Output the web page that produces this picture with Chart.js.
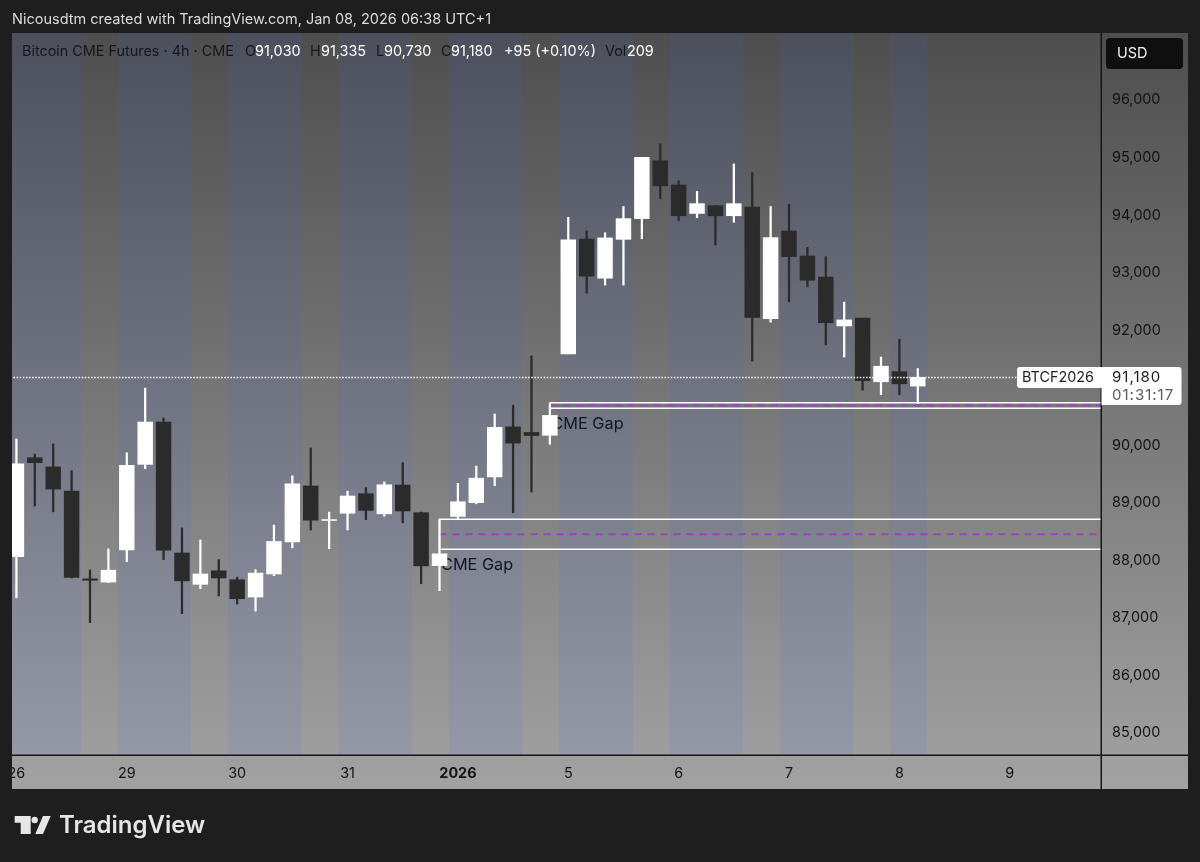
<!DOCTYPE html>
<html><head><meta charset="utf-8">
<style>html,body{margin:0;padding:0;background:#1e1e1e}canvas{display:block}</style>
<script src="https://cdn.jsdelivr.net/npm/chart.js@4"></script>
</head><body><canvas id="c" width="1200" height="862"></canvas>
<script>
const opens  =[88065,89785,89625,89205,87680,87625,88185,89670,90405,88130,87585,87820,87665,87365,87765,88320,89295,88695,88820,89160,88810,89310,88830,87910,88765,89005,89450,90320,90225,90175,91590,93585,92905,93580,93940,94945,94525,94030,94165,93990,94140,92200,93725,93290,92925,92075,92210,91105,91280,91030];
const highs  =[90110,89850,90025,89560,87835,88200,89870,90995,90475,88565,88355,88015,87710,87840,88615,89470,89955,88840,89205,89265,89365,89700,88840,88720,89340,89640,90545,90700,91555,90735,93965,93725,93695,94150,95005,95240,94600,94415,94165,94890,94740,94150,94190,93440,93280,92490,92210,91535,91845,91335];
const lows   =[87350,88945,88845,87695,86920,87615,87980,89595,88015,87075,87510,87385,87245,87120,87735,88220,88530,88205,88530,88710,88770,88655,87595,87475,88720,88985,89300,88830,89190,90020,91590,92645,92785,92785,93590,94285,93905,93955,93480,93875,91465,92140,92495,92755,91745,91535,90960,90880,90880,90730];
const closes =[89680,89700,89240,87705,87655,87830,89655,90405,88180,87645,87765,87695,87335,87780,88330,89330,88700,88710,89120,88870,89315,88860,87905,88115,89020,89430,90315,90040,90170,90520,93570,92940,93605,93940,95005,94510,93990,94200,93990,94200,92225,93610,93280,92870,92130,92180,91125,91375,91070,91180];
const yTicks =[85000,86000,87000,88000,89000,90000,91000,92000,93000,94000,95000,96000];
const xTickIdx   =[0,6,12,18,24,30,36,42,48,54];
const xTickLabels=['26','29','30','31','2026','5','6','7','8','9'];
const greyBands=[[3.5,5.5],[9.5,11.5],[15.5,17.5],[21.5,23.5],[27.5,29.5],[33.5,35.5],[39.5,41.5],[45.5,47.5]];
const sessionStart=-1, sessionEnd=49.5;
const gapZones=[{from:23,top:88715,bottom:88195,mid:88455},{from:29,top:90740,bottom:90645,mid:90695}];
const gapNotes=[{x:23,price:87920,text:'CME Gap'},{x:29,price:90365,text:'CME Gap'}];
const lastPrice=91180, xEnd=59.5;

const FONT='Inter, "Noto Sans", sans-serif';
const WHITE='#ffffff', DARK='#2b2b2b';
const colours=opens.map((o,i)=>closes[i]>=o?WHITE:DARK);
const ds=[];
gapZones.forEach(g=>{
  ds.push({type:'line',order:6,data:[{x:g.from,y:g.top},{x:xEnd,y:g.top},{x:xEnd,y:g.bottom},{x:g.from,y:g.bottom},{x:g.from,y:g.top}],
    borderColor:WHITE,borderWidth:1.4,pointRadius:0,fill:false,tension:0});
});
gapZones.forEach(g=>{
  ds.push({type:'line',order:5,data:[{x:g.from,y:g.mid},{x:xEnd,y:g.mid}],
    borderColor:'#a040c0',borderWidth:1.8,borderDash:[7,6],pointRadius:0,fill:false});
});
ds.push({type:'bar',order:2,grouped:false,barThickness:1.6,borderWidth:0,backgroundColor:colours,
  data:lows.map((l,i)=>({x:i,y:[l,highs[i]]}))});
ds.push({type:'bar',order:1,grouped:false,barThickness:14.8,borderWidth:0,backgroundColor:colours,
  data:opens.map((o,i)=>({x:i,y:[o,closes[i]]}))});
ds.push({type:'line',order:0,data:[{x:-1,y:lastPrice},{x:xEnd,y:lastPrice}],borderColor:WHITE,borderWidth:1.4,borderDash:[1.5,1.6],pointRadius:0,fill:false});

function txt(ctx,s,x,y,font,col,spacing){ctx.font=font;ctx.fillStyle=col;ctx.textAlign='left';ctx.textBaseline='middle';ctx.letterSpacing=spacing||'0px';ctx.fillText(s,x,y);ctx.letterSpacing='0px';}
function rr(ctx,x,y,w,h,r,col){ctx.fillStyle=col;ctx.beginPath();ctx.roundRect(x,y,w,h,r);ctx.fill();}

const furniture={
  id:'furniture',
  beforeDraw(chart){
    const ctx=chart.ctx, a=chart.chartArea, xs=chart.scales.x;
    ctx.save();
    ctx.fillStyle='#1e1e1e';ctx.fillRect(0,0,1200,862);
    const g=ctx.createLinearGradient(0,33,0,789);
    g.addColorStop(0,'#4e4e4e');g.addColorStop(1,'#a2a2a2');
    ctx.fillStyle=g;ctx.fillRect(12,33,1176,756);
    const b=ctx.createLinearGradient(0,33,0,789);
    b.addColorStop(0,'#4c505c');b.addColorStop(1,'#989baa');
    ctx.fillStyle=b;
    ctx.beginPath();ctx.rect(a.left,a.top,a.right-a.left,a.bottom-a.top);ctx.clip();
    const px=v=>xs.getPixelForValue(v);
    ctx.fillRect(px(sessionStart),a.top,px(sessionEnd)-px(sessionStart),a.bottom-a.top);
    ctx.fillStyle=g;
    greyBands.forEach(r=>ctx.fillRect(px(r[0]),a.top,px(r[1])-px(r[0]),a.bottom-a.top));
    ctx.restore();
  },
  beforeDatasetsDraw(chart){
    const ctx=chart.ctx, xs=chart.scales.x, ys=chart.scales.y;
    ctx.save();
    gapNotes.forEach(n=>txt(ctx,n.text,xs.getPixelForValue(n.x)+1.5,ys.getPixelForValue(n.price),'16.3px '+FONT,'#131722'));
    ctx.restore();
  },
  afterDraw(chart){
    const ctx=chart.ctx, a=chart.chartArea;
    ctx.save();
    ctx.fillStyle='#1e1e1e';ctx.fillRect(0,a.bottom,12,40);
    ctx.fillStyle='#161616';
    ctx.fillRect(12,a.bottom-0.5,1176,1.5);
    ctx.fillRect(a.right-0.5,33,1.5,756);
    txt(ctx,'Nicousdtm created with TradingView.com, Jan 08, 2026 06:38 UTC+1',12,19.5,'14.5px '+FONT,'#dcdcdc');
    const D='#15171c', W='#ffffff', F='14.4px '+FONT;
    txt(ctx,'Bitcoin CME Futures · 4h · CME',22,52,F,D);
    [['O',245,D],['91,030',255,W],['H',310,D],['91,335',321,W],['L',376,D],['90,730',384,W],['C',441,D],['91,180',451,W],['+95 (+0.10%)',504,W],['Vol',605,D],['209',627,W]]
      .forEach(t=>txt(ctx,t[0],t[1],52,F,t[2]));
    rr(ctx,1106,38,77,31,4,'#0f0f0f');
    txt(ctx,'USD',1117,53.5,F,'#f2f2f2');
    rr(ctx,1017,367,85,21,[3,0,0,3],'#ffffff');
    txt(ctx,'BTCF2026',1022,378,F,'#1e1e1e');
    rr(ctx,1101.5,367,80,38,[0,3,3,0],'#ffffff');
    txt(ctx,'91,180',1112,377.5,'15px '+FONT,'#1e1e1e','1px');
    txt(ctx,'01:31:17',1112,395,'15px '+FONT,'#5a5a5a','1px');
    const L='#e6e6e6';ctx.fillStyle=L;
    ctx.beginPath();ctx.moveTo(14.7,816);ctx.lineTo(30.7,816);ctx.lineTo(30.7,834);ctx.lineTo(20.7,834);ctx.lineTo(20.7,822.7);ctx.lineTo(14.7,822.7);ctx.closePath();ctx.fill();
    ctx.beginPath();ctx.arc(34.7,820,3.2,0,Math.PI*2);ctx.fill();
    ctx.beginPath();ctx.moveTo(43,816);ctx.lineTo(50.7,816);ctx.lineTo(43,834);ctx.lineTo(35.3,834);ctx.closePath();ctx.fill();
    txt(ctx,'TradingView',59,826,'600 24px '+FONT,L);
    ctx.restore();
  }
};

new Chart(document.getElementById('c'),{
  type:'bar',
  data:{datasets:ds},
  plugins:[furniture],
  options:{
    responsive:false,animation:false,devicePixelRatio:1,
    layout:{padding:{left:12,top:33,right:12,bottom:73}},
    plugins:{legend:{display:false},tooltip:{enabled:false}},
    scales:{
      x:{type:'linear',offset:false,min:-0.24,max:58.96,
        grid:{display:false,drawTicks:false,offset:false},border:{display:false},
        afterBuildTicks(s){s.ticks=xTickIdx.map(v=>({value:v}));},
        afterFit(s){s.height=34;s.paddingLeft=0;s.paddingRight=0;},
        ticks:{autoSkip:false,maxRotation:0,padding:10,color:'#131313',
          font:c=>({family:FONT,size:14.4,weight:c.tick&&c.tick.label==='2026'?'700':'400'}),
          callback:v=>xTickLabels[xTickIdx.indexOf(v)]}},
      y:{type:'linear',position:'right',min:84619,max:97166,
        grid:{display:false,drawTicks:false},border:{display:false},
        afterBuildTicks(s){s.ticks=yTicks.map(v=>({value:v}));},
        afterFit(s){s.width=87;s.paddingTop=0;s.paddingBottom=0;},
        ticks:{padding:11,color:'#131313',font:{family:FONT,size:14.4},crossAlign:'near',
          callback:v=>v.toLocaleString('en-US')}}
    }
  }
});
</script></body></html>
